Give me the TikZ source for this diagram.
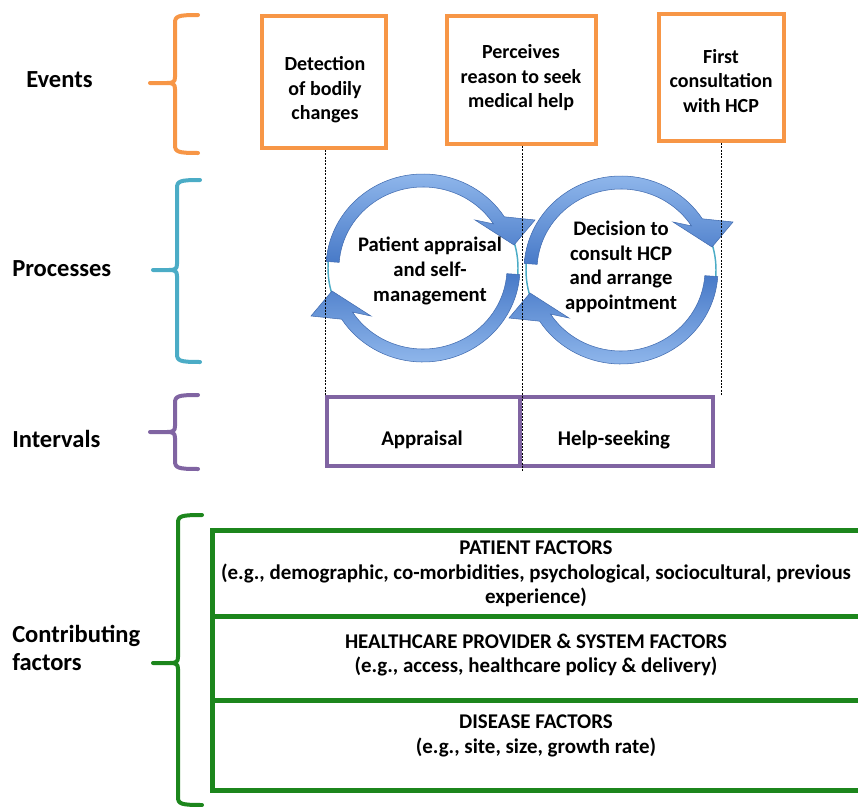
\documentclass[tikz,border=0pt]{standalone}
\usepackage{fontspec}
\setmainfont{Carlito}
\usetikzlibrary{shadows}

\definecolor{evorange}{RGB}{247,150,70}
\definecolor{proteal}{RGB}{75,172,198}
\definecolor{intpurple}{RGB}{128,100,162}
\definecolor{facgreen}{RGB}{28,134,28}
\definecolor{ringlight}{RGB}{145,184,236}
\definecolor{ringdark}{RGB}{72,122,200}
\definecolor{ringedge}{RGB}{66,108,176}

% curly brace: colour, x of spine, top y, bottom y, middle y, tip x, end x
\newcommand{\drawbrace}[7]{%
  \draw[#1, line width=3pt, line cap=round, line join=round]
    (#7,#3) .. controls (#2+3,#3) and (#2,#3+1) .. (#2,#3+8)
    -- (#2,#5-6) .. controls (#2,#5-1) and (#2-2,#5) .. (#2-8,#5) -- (#6,#5)
    (#6,#5) -- (#2-8,#5) .. controls (#2-2,#5) and (#2,#5+1) .. (#2,#5+6)
    -- (#2,#4-8) .. controls (#2,#4-1) and (#2+3,#4) .. (#7,#4);}

% pair of clockwise block arrows forming a cycle around the origin
\newcommand{\turnarrows}{%
  \draw[proteal, line width=1.1pt] (0,0) ellipse [x radius=95, y radius=91];
  \shade[top color=ringlight, bottom color=ringdark, draw=ringedge, line width=0.4pt]
    (-176:97 and 94) arc[start angle=-176, end angle=-33, x radius=97, y radius=94]
    -- (112,-48) -- (91,-23) -- (52,-48)
    -- (-33:84 and 81) arc[start angle=-33, end angle=-176, x radius=84, y radius=81] -- cycle;
  \shade[top color=ringdark, bottom color=ringlight, draw=ringedge, line width=0.4pt]
    (4:97 and 94) arc[start angle=4, end angle=147, x radius=97, y radius=94]
    -- (-112,48) -- (-91,23) -- (-52,48)
    -- (147:84 and 81) arc[start angle=147, end angle=4, x radius=84, y radius=81] -- cycle;}

\begin{document}
\begin{tikzpicture}[x=0.75pt, y=-0.75pt,
  softshadow/.style={drop shadow={shadow xshift=1.2pt, shadow yshift=-1.2pt, opacity=0.25, fill=black}},
  eventbox/.style={draw=evorange, line width=3pt, fill=white, inner sep=0pt, softshadow},
  intbox/.style={draw=intpurple, line width=3pt, fill=white, inner sep=0pt, softshadow},
  facbox/.style={draw=facgreen, line width=3.75pt, fill=white, inner sep=0pt, softshadow,
    minimum width=487.5pt},
  rowlabel/.style={anchor=west, align=left, inner sep=0pt,
    font=\fontsize{18.4}{20.5}\selectfont\bfseries},
  boxtext/.style={align=center, inner sep=0pt, font=\fontsize{15}{18.4}\selectfont\bfseries},
  cyctext/.style={align=center, inner sep=0pt, font=\fontsize{15.5}{18.4}\selectfont\bfseries},
  inttext/.style={align=center, inner sep=0pt, font=\fontsize{15.7}{18}\selectfont\bfseries},
  factext/.style={align=center, inner sep=0pt, font=\fontsize{15.7}{18.4}\selectfont\bfseries},
  guide/.style={black, line width=0.6pt, dash pattern=on 1.5pt off 1pt}]

\useasboundingbox (0,0) rectangle (858,807);
\clip (0,0) rectangle (858,807);

% row labels
\node[rowlabel] (lev) at (26,80) {Events};
\node[rowlabel] (lpr) at (12,269) {Processes};
\node[rowlabel] (lin) at (12,439) {Intervals};
\node[rowlabel] (lcf) at (12,648) {Contributing\\factors};

% braces
\drawbrace{evorange}{175}{15}{153}{83}{150}{198}
\drawbrace{proteal}{177}{180}{362}{270}{153}{200}
\drawbrace{intpurple}{175}{395}{469}{432}{150}{198}
\drawbrace{facgreen}{178}{515}{805}{663}{153}{202}

% event boxes
\node[eventbox, minimum width=93pt, minimum height=99pt] (ev1) at (324,82) {};
\node[eventbox, minimum width=111.75pt, minimum height=96pt] (ev2) at (521.5,80) {};
\node[eventbox, minimum width=93.75pt, minimum height=95.25pt] (ev3) at (721.5,77.5) {};

% interval boxes
\node[intbox, minimum width=144.75pt, minimum height=51.75pt] (appr) at (423.5,431.5) {};
\node[intbox, minimum width=144.75pt, minimum height=51.75pt] (help) at (616.5,431.5) {};

% contributing factor rows
\node[facbox, minimum height=64.5pt] (fac1) at (537,573) {};
\node[facbox, minimum height=63pt] (fac2) at (537,658) {};
\node[facbox, minimum height=67.5pt] (fac3) at (537,745) {};

% process cycles
\begin{scope}[shift={(423,268)}]
  \turnarrows
\end{scope}
\begin{scope}[shift={(621,270)}]
  \turnarrows
\end{scope}

% time markers
\draw[guide] (ev1.south -| appr.west) -- (appr.north west);
\draw[guide] (ev2.south -| appr.east) -- ([yshift=-2pt]appr.south east);
\draw[guide] (ev3.south) -- (ev3.south |- help.north);

% texts
\node[boxtext] (ev1t) at (325,90) {Detection\\of bodily\\changes};
\node[boxtext] (ev2t) at (521,78) {Perceives\\reason to seek\\medical help};
\node[boxtext] (ev3t) at (721,81) {First\\consultation\\with HCP};

\node[cyctext] (pr1t) at (430,271) {Patient appraisal\\and self-\\management};
\node[cyctext] (pr2t) at (621,267) {Decision to\\consult HCP\\and arrange\\appointment};

\node[inttext] (apprt) at (422,440) {Appraisal};
\node[inttext] (helpt) at (614,440) {Help-seeking};

\node[factext] (fac1t) at (536,574) {PATIENT FACTORS\\(e.g., demographic, co-morbidities, psychological, sociocultural, previous\\experience)};
\node[factext] (fac2t) at (536,655) {HEALTHCARE PROVIDER \& SYSTEM FACTORS\\(e.g., access, healthcare policy \& delivery)};
\node[factext] (fac3t) at (536,736) {DISEASE FACTORS\\(e.g., site, size, growth rate)};

\end{tikzpicture}
\end{document}
